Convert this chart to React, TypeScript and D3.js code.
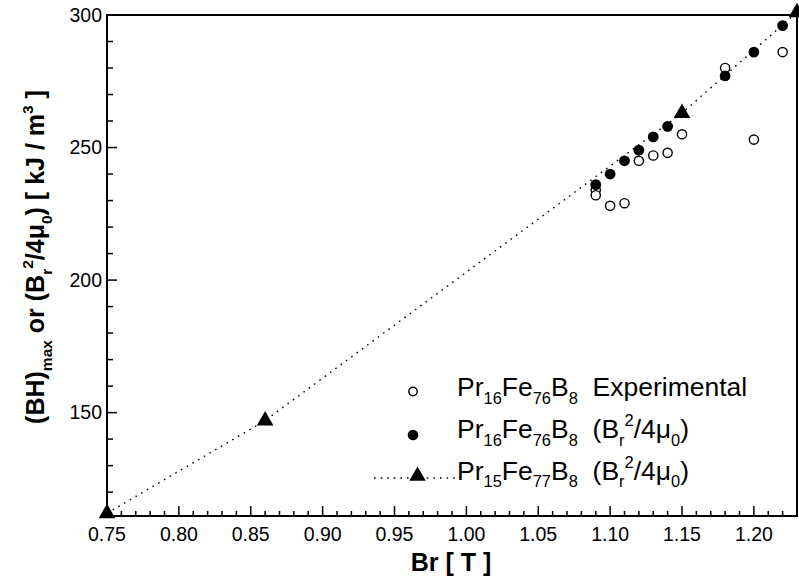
import React from 'react';
import * as d3 from 'd3';

// Pr16Fe76B8 experimental (BH)max
const openBr = [1.09, 1.09, 1.10, 1.11, 1.12, 1.13, 1.14, 1.15, 1.18, 1.20, 1.22];
const openBH = [234, 232, 228, 229, 245, 247, 248, 255, 280, 253, 286];

// Pr16Fe76B8 Br^2/4mu0
const filledBr = [1.09, 1.10, 1.11, 1.12, 1.13, 1.14, 1.18, 1.20, 1.22];
const filledBH = [236, 240, 245, 249, 254, 258, 277, 286, 296];

// Pr15Fe77B8 Br^2/4mu0
const triBr = [0.75, 0.86, 1.15, 1.23];
const triBH = [112, 147, 263, 301];

const xTickLabels = ['0.75', '0.80', '0.85', '0.90', '0.95', '1.00', '1.05', '1.10', '1.15', '1.20'];
const yTickLabels = ['150', '200', '250', '300'];

const W = 799;
const H = 583;
const FONT = 'Arial, "Liberation Sans", Helvetica, sans-serif';

type Seg = { t: string; s?: 'sub' | 'sup' };

// renders text with sub/superscripts as tspans
function RichText({ segs, size }: { segs: Seg[]; size: number }) {
  let cur = 0;
  return (
    <>
      {segs.map((g, i) => {
        const target = g.s === 'sub' ? size * 0.3 : g.s === 'sup' ? -size * 0.45 : 0;
        const dy = target - cur;
        cur = target;
        return (
          <tspan key={i} dy={dy} fontSize={g.s ? size * 0.62 : size}>
            {g.t}
          </tspan>
        );
      })}
    </>
  );
}

const formula = (a: string, b: string): Seg[] => [
  { t: 'Pr' }, { t: a, s: 'sub' }, { t: 'Fe' }, { t: b, s: 'sub' }, { t: 'B' }, { t: '8', s: 'sub' },
];
const brTerm: Seg[] = [
  { t: '\u00a0 (B' }, { t: 'r', s: 'sub' }, { t: '2', s: 'sup' }, { t: '/4\u03bc' }, { t: '0', s: 'sub' }, { t: ')' },
];

export default function App() {
  const x = d3.scaleLinear().domain([0.75, 1.23]).range([107, 797]);
  const y = d3.scaleLinear().domain([111, 300]).range([516, 15]);
  const [x0, x1] = x.range();
  const [y0, y1] = y.range();

  const xMinor = d3.range(75, 124).map(v => v / 100);
  const yMinor = d3.range(120, 300, 10);

  const triPath = d3.symbol().type(d3.symbolTriangle).size(120)() as string;
  const line = d3.line<number>().x((_, i) => x(triBr[i])).y(d => y(d));

  const legendSize = 26.5;
  const legendX = 457;
  const rows = [396, 438, 479.5];

  const yLabel: Seg[] = [
    { t: '(BH)' }, { t: 'max', s: 'sub' }, { t: ' or (B' }, { t: 'r', s: 'sub' }, { t: '2', s: 'sup' },
    { t: '/4\u03bc' }, { t: '0', s: 'sub' }, { t: ') [ kJ / m' }, { t: '3', s: 'sup' }, { t: ' ]' },
  ];

  return (
    <svg width={W} height={H} style={{ position: 'absolute', left: 0, top: 0, background: '#fff' }} fontFamily={FONT}>
      <rect width={W} height={H} fill="#fff" />

      {/* ticks */}
      {xMinor.map((v, i) => {
        const major = Math.round(v * 100) % 5 === 0;
        return <line key={'xt' + i} x1={x(v)} x2={x(v)} y1={y0} y2={y0 - (major ? 10 : 5)} stroke="#000" strokeWidth={1.5} />;
      })}
      {yMinor.map((v, i) => {
        const major = v % 50 === 0;
        return <line key={'yt' + i} x1={x0} x2={x0 + (major ? 10 : 6)} y1={y(v)} y2={y(v)} stroke="#000" strokeWidth={1.5} />;
      })}

      {/* tick labels */}
      {xTickLabels.map(l => (
        <text key={l} x={x(+l)} y={541} textAnchor="middle" fontSize={19.5} fill="#000">{l}</text>
      ))}
      {yTickLabels.map(l => (
        <text key={l} x={x0 - 5} y={y(+l)} dy={6.8} textAnchor="end" fontSize={19.5} fill="#000">{l}</text>
      ))}

      {/* frame */}
      <rect x={x0} y={y1} width={x1 - x0} height={y0 - y1} fill="none" stroke="#000" strokeWidth={2} />

      {/* axis titles */}
      <text x={451} y={571} textAnchor="middle" fontSize={25} fontWeight="bold" fill="#000">Br [ T ]</text>
      <text transform="translate(44,257) rotate(-90)" textAnchor="middle" fontSize={25} fontWeight="bold" fill="#000">
        <RichText segs={yLabel} size={25} />
      </text>

      {/* experimental */}
      {openBr.map((b, i) => (
        <circle key={'o' + i} cx={x(b)} cy={y(openBH[i])} r={4.6} fill="#fff" stroke="#000" strokeWidth={1.4} />
      ))}
      {filledBr.map((b, i) => (
        <circle key={'f' + i} cx={x(b)} cy={y(filledBH[i])} r={5.4} fill="#000" />
      ))}

      {/* Pr15Fe77B8 */}
      <path d={line(triBH) as string} fill="none" stroke="#000" strokeWidth={1.4} strokeDasharray="1.6,5" />
      {triBr.map((b, i) => (
        <path key={'t' + i} d={triPath} transform={`translate(${x(b)},${y(triBH[i])})`} fill="#000" />
      ))}

      {/* legend */}
      <circle cx={413} cy={391.5} r={4.2} fill="#fff" stroke="#000" strokeWidth={1.4} />
      <text x={legendX} y={rows[0]} fill="#000" fontSize={legendSize}>
        <RichText segs={[...formula('16', '76'), { t: '\u00a0 Experimental' }]} size={legendSize} />
      </text>
      <circle cx={413} cy={435} r={5.3} fill="#000" />
      <text x={legendX} y={rows[1]} fill="#000" fontSize={legendSize}>
        <RichText segs={[...formula('16', '76'), ...brTerm]} size={legendSize} />
      </text>
      <line x1={374} x2={458} y1={478} y2={478} stroke="#000" strokeWidth={1.4} strokeDasharray="1.6,5" />
      <path d={triPath} transform="translate(417.5,476)" fill="#000" />
      <text x={legendX} y={rows[2]} fill="#000" fontSize={legendSize}>
        <RichText segs={[...formula('15', '77'), ...brTerm]} size={legendSize} />
      </text>
    </svg>
  );
}
